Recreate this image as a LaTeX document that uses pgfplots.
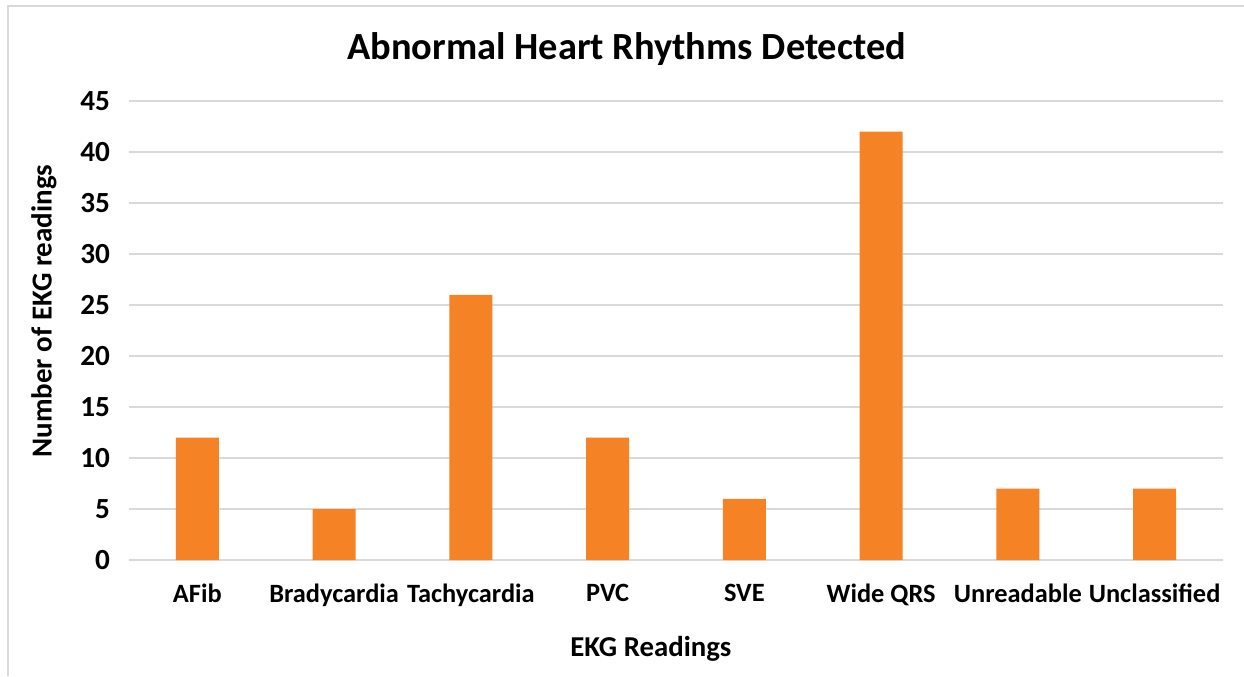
\documentclass[border=0pt]{standalone}
\usepackage{pgfplots}
\pgfplotsset{compat=1.18}
\usepackage{fontspec}
\setmainfont{Carlito}
\definecolor{barorange}{RGB}{245,131,38}
\definecolor{gridgray}{RGB}{217,217,217}
\begin{document}
\begin{tikzpicture}
\begin{axis}[
  at={(0,0)}, anchor=south west,
  scale only axis,
  width=547pt, height=229.5pt,
  xmin=-0.5, xmax=7.5, ymin=0, ymax=45,
  ytick={0,5,...,45},
  xtick={0,...,7},
  xticklabels={AFib,Bradycardia,Tachycardia,PVC,SVE,Wide QRS,Unreadable,Unclassified},
  axis line style={draw=none},
  major tick length=0pt,
  ymajorgrids,
  grid style={gridgray, line width=0.8pt},
  /pgf/number format/assume math mode=true,
  yticklabel style={font=\bfseries\fontsize{14.6}{17}\selectfont, xshift=-6pt},
  xticklabel style={font=\bfseries\fontsize{13.2}{16}\selectfont, yshift=-8.5pt},
  title={Abnormal Heart Rhythms Detected},
  title style={font=\bfseries\fontsize{19.2}{23}\selectfont, at={(rel axis cs:0.455,1.1176)}, anchor=center, yshift=-7pt},
  xlabel={EKG Readings},
  xlabel style={font=\bfseries\fontsize{14.4}{17}\selectfont, at={(rel axis cs:0.477,-0.194)}, anchor=center},
  ylabel={Number of EKG readings},
  ylabel style={font=\bfseries\fontsize{14.5}{17}\selectfont, at={(rel axis cs:-0.0777,0.5425)}, anchor=center, rotate=0},
  clip=false,
]
\addplot[ybar, bar width=21.5pt, fill=barorange, draw=none] coordinates {
  (0,12) (1,5) (2,26) (3,12) (4,6) (5,42) (6,7) (7,7)
};
\end{axis}
\draw[gridgray, line width=0.8pt] (-60.5pt,-58pt) -- (-60.5pt,277pt) -- (557.5pt,277pt);
\pgfresetboundingbox
\useasboundingbox (-64.5pt,-58pt) rectangle (557.5pt,280pt);
\end{tikzpicture}
\end{document}
